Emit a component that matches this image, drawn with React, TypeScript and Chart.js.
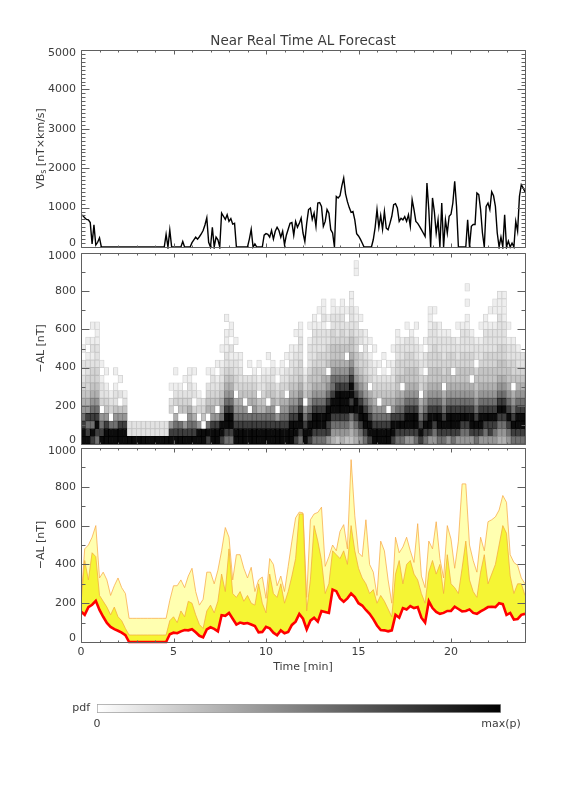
import React, { useEffect, useRef } from 'react';
import { Chart, registerables } from 'chart.js';

Chart.register(...registerables);

const W = 576;
const H = 792;
const FONT = "'DejaVu Sans', 'Liberation Sans', sans-serif";
const AXIS_COLOR = '#606060';
const TEXT_COLOR = '#3c3c3c';

// ---------- data ----------
const TIME_MIN = 0;
const TIME_MAX = 24;
const X_TICK_STEP = 5;

// VBs [nT x km/s], every 0.1 min
const VBS_STEP = 0.1;
const VBS = [
  800, 800, 740, 700, 690, 620, 80, 560, 50, 120,
  230, 0, 0, 0, 0, 0, 0, 0, 0, 0,
  0, 0, 0, 0, 0, 0, 0, 0, 0, 0,
  0, 0, 0, 0, 0, 0, 0, 0, 0, 0,
  0, 0, 0, 0, 0, 0, 320, 0, 430, 0,
  0, 0, 0, 0, 0, 140, 0, 0, 0, 0,
  110, 180, 250, 200, 260, 330, 420, 560, 740, 120,
  0, 500, 0, 250, 180, 0, 860, 780, 700, 820,
  650, 720, 580, 600, 0, 0, 0, 0, 0, 0,
  0, 200, 450, 0, 80, 0, 0, 0, 0, 300,
  340, 320, 250, 420, 200, 400, 500, 420, 250, 400,
  60, 300, 450, 600, 620, 300, 650, 500, 600, 736,
  355, 140, 600, 950, 990, 700, 860, 525, 1117, 1130,
  1030, 525, 650, 950, 860, 440, 355, 0, 1285, 1245,
  1300, 1550, 1750, 1350, 1150, 1000, 880, 900, 690, 340,
  280, 200, 100, 0, 0, 0, 0, 0, 190, 500,
  950, 500, 800, 450, 900, 480, 440, 600, 780, 1075,
  1100, 990, 650, 730, 690, 770, 650, 820, 525, 1200,
  950, 650, 600, 525, 440, 355, 270, 1625, 950, 0,
  1245, 900, 350, 690, 0, 1117, 0, 690, 355, 780,
  830, 1117, 1667, 1030, 0, 0, 0, 0, 0, 690,
  0, 525, 570, 570, 1370, 1330, 950, 355, 0, 1030,
  1117, 950, 1400, 1300, 1030, 355, 0, 250, 0, 820,
  0, 150, 0, 100, 0, 650, 400, 1285, 1580, 1500,
  1400,
];

// -AL forecast [nT], every 0.2 min
const AL_STEP = 0.2;
const AL_MEDIAN = [
  157, 140, 180, 192, 212,
  165, 130, 98, 78, 66,
  58, 48, 35, 0, 0,
  0, 0, 0, 0, 0,
  0, 0, 0, 0, 40,
  48, 45, 55, 62, 60,
  66, 50, 32, 24, 65,
  76, 68, 55, 138, 135,
  150, 120, 90, 100, 95,
  98, 90, 82, 50, 52,
  78, 70, 48, 35, 60,
  45, 52, 88, 105, 145,
  120, 65, 110, 125, 105,
  160, 155, 150, 270, 262,
  225, 208, 225, 250, 232,
  200, 188, 165, 145, 118,
  85, 62, 60, 55, 60,
  140, 125, 175, 168, 185,
  175, 180, 125, 100, 210,
  175, 155, 145, 150, 160,
  160, 182, 170, 158, 160,
  168, 150, 145, 158, 168,
  180, 182, 180, 200, 195,
  140, 150, 115, 118, 140,
  145,
];
const AL_INNER = [
  200, 420, 320, 460, 440,
  240, 210, 180, 140, 180,
  130, 110, 70, 36, 36,
  36, 36, 36, 36, 36,
  36, 36, 36, 36, 110,
  130, 100, 160, 130, 210,
  200, 140, 90, 70, 160,
  190, 150, 210, 350, 260,
  480, 250, 230, 260, 210,
  240, 200, 190, 300, 200,
  150, 350, 250, 230, 300,
  200, 260, 340, 430, 660,
  660, 160, 320, 600, 520,
  420, 250, 300, 470, 450,
  430, 470, 400, 600, 470,
  380, 330, 300, 250, 270,
  200, 240, 210, 170, 130,
  350, 420, 300, 400, 420,
  350, 320, 250, 200, 360,
  420, 350, 400, 250, 450,
  300, 280, 250, 380, 520,
  320, 260, 230, 360, 450,
  300, 350, 400, 500, 600,
  560, 340, 250, 300, 300,
  240,
];
const AL_OUTER = [
  210, 480, 500, 540, 600,
  330, 360, 320, 240, 290,
  330, 280, 250, 122, 122,
  122, 122, 122, 122, 122,
  122, 122, 122, 122, 215,
  290, 290, 320, 280, 340,
  380, 260, 190, 220, 360,
  360, 300, 370, 470, 590,
  540, 320, 450, 450, 380,
  330, 385, 260, 320, 335,
  225, 430, 400, 290, 340,
  260, 390, 520, 640, 670,
  665, 230, 630, 660, 668,
  695, 390, 440, 500, 470,
  570, 605, 480, 940, 650,
  460, 440, 630, 400, 360,
  240, 520, 470, 320, 200,
  540, 460, 490, 540, 470,
  410, 610, 340, 280, 520,
  480, 620, 430, 330, 600,
  530, 380, 520, 815, 815,
  500, 420, 360, 540, 470,
  620, 630, 645, 680, 755,
  720, 450, 410, 395, 330,
  300,
];

// pdf heat map: one string per 0.25-min column, one digit (0 = empty .. 9 = max) per 40 nT bin, from 0 nT upward
const HEAT_DT = 0.25;
const HEAT_DY = 40;
const HEAT_COLUMNS = [
  '9987654321201', '98786543322101', '8978765433212101', '7898765433222111',
  '98760322101', '9986432101', '99703210', '9976422101', '998640201', '99864210',
  '922', '922', '922', '922', '922', '922', '922', '922', '922',
  '98603201', '9875032101', '98704321', '986043201', '9876532211',
  '9875302101', '9960321', '9904320', '8970543201', '9986543221',
  '99860432101', '8997654322101', '78998765432211101', '7899876543212011', '99876503322101',
  '998765432211', '9987604320', '99870543201', '9987654321', '99875402101',
  '9987543221', '998760432101', '99876543221', '9986043201', '99876543211',
  '998765032201', '9998765432211', '899876543322101', '7899876543322211', '9987604321',
  '8998765443222101', '78998765443222211', '789987654433222101', '7899876554332221211', '68899876504332201',
  '5678998776544332211', '467899987654432221', '5678999876544332211', '467899987650432201', '45679899876544322211',
  '567899876544332211000011', '67899876543302201', '789987654332211', '89987650322101', '9987654322101',
  '99876043201', '998765432101', '99870543201', '8998654322101', '789876544332211',
  '78987650433221', '6899876544332201', '689987654433221', '7899876544322101', '8987650332211',
  '78987654302201', '689987654433222111', '678987654433322201', '7899876544332211', '789876504332221',
  '689987654433221', '78998765403322', '6899876544322101', '6789876544332221', '678987654433222110101',
  '689987650433221', '78987654430221', '6899876544322101', '67898765443322211', '688987654433222101',
  '6789876544332221011', '56789876544332222111', '56789876544332221111', '6789876544322101', '78987650433221',
  '7899876543221', '789987654322',
];
// grey level for each pdf digit (0..9)
const HEAT_GREYS = [255, 238, 226, 212, 196, 176, 150, 112, 62, 12];

const TITLE = 'Near Real Time AL Forecast';
const AL_LABEL = '\u2212AL [nT]';
const TIME_LABEL = 'Time [min]';

// ---------- layout ----------
const PLOT_LEFT = 81;
const PLOT_RIGHT = 525;
const P1 = { top: 50, bottom: 247 };
const P2 = { top: 253, bottom: 444 };
const P3 = { top: 448, bottom: 642 };
const CB = { left: 97, right: 501, top: 704, bottom: 713 };

Chart.defaults.font.family = FONT;
Chart.defaults.color = TEXT_COLOR;

const tickFont = { family: FONT, size: 11 };

function makeFrame(yMinor: number, yMajor: number) {
  return {
    id: 'frameTicks',
    afterDatasetsDraw(chart: any) {
      const { ctx, chartArea: a, scales } = chart;
      const xs = scales.x;
      const ys = scales.y;
      const L = Math.round(a.left), R = Math.round(a.right), T = Math.round(a.top), B = Math.round(a.bottom);
      ctx.save();
      ctx.strokeStyle = AXIS_COLOR;
      ctx.lineWidth = 1;
      ctx.beginPath();
      ctx.rect(L + 0.5, T + 0.5, R - L, B - T);
      ctx.stroke();
      ctx.beginPath();
      for (let v = xs.min; v <= xs.max + 1e-9; v += 1) {
        const px = Math.round(xs.getPixelForValue(v)) + 0.5;
        const major = Math.abs(v % X_TICK_STEP) < 1e-6;
        const len = major ? 4 : 2;
        ctx.moveTo(px, B + 0.5);
        ctx.lineTo(px, B + 0.5 - len);
        ctx.moveTo(px, T + 0.5);
        ctx.lineTo(px, T + 0.5 + len);
      }
      for (let v = ys.min; v <= ys.max + 1e-9; v += yMinor) {
        const py = Math.round(ys.getPixelForValue(v)) + 0.5;
        const major = Math.abs(v % yMajor) < 1e-6;
        const len = major ? 8 : 4;
        ctx.moveTo(L + 0.5, py);
        ctx.lineTo(L + 0.5 + len, py);
        ctx.moveTo(R + 0.5, py);
        ctx.lineTo(R + 0.5 - len, py);
      }
      ctx.stroke();

      // y tick labels (taken from the scale's own ticks), kept inside the panel's height like the original
      ctx.fillStyle = TEXT_COLOR;
      ctx.font = `${tickFont.size}px ${FONT}`;
      ctx.textAlign = 'right';
      ctx.textBaseline = 'middle';
      ys.ticks.forEach((t: any) => {
        const py = ys.getPixelForValue(t.value);
        const y = Math.min(Math.max(py, T + 3), B - 3.5);
        ctx.fillText(String(t.value), L - 5, y);
      });
      ctx.restore();
    },
  };
}

const vbsTitlePlugin = {
  id: 'vbsTitle',
  afterDraw(chart: any) {
    const { ctx, chartArea: a } = chart;
    const cx = 41;
    const cy = (a.top + a.bottom) / 2;
    const big = `11px ${FONT}`;
    const small = `8px ${FONT}`;
    const parts: [string, string, number][] = [
      ['VB', big, 0],
      ['s', small, 3],
      [' [nT\u00d7km/s]', big, 0],
    ];
    ctx.save();
    ctx.translate(cx, cy);
    ctx.rotate(-Math.PI / 2);
    ctx.fillStyle = TEXT_COLOR;
    ctx.textBaseline = 'middle';
    ctx.textAlign = 'left';
    let total = 0;
    parts.forEach(([t, f]) => {
      ctx.font = f;
      total += ctx.measureText(t).width;
    });
    let x = -total / 2;
    parts.forEach(([t, f, dy]) => {
      ctx.font = f;
      ctx.fillText(t, x, dy);
      x += ctx.measureText(t).width;
    });
    ctx.restore();
  },
};

function yAxis(min: number, max: number, step: number, title?: string) {
  return {
    type: 'linear',
    min,
    max,
    ticks: {
      display: false,
      stepSize: step,
      autoSkip: false,
    },
    grid: { display: false, drawTicks: false },
    border: { display: false },
    title: title
      ? { display: true, text: title, color: TEXT_COLOR, font: tickFont, padding: { top: 34.4, bottom: 0 } }
      : { display: false },
    afterFit: (s: any) => {
      s.width = PLOT_LEFT;
    },
  };
}

const hiddenX = { type: 'linear', min: TIME_MIN, max: TIME_MAX, display: false, offset: false };

const basePlugins = { legend: { display: false }, tooltip: { enabled: false } };

function grey(v: number) {
  const c = Math.max(0, Math.min(255, Math.round(v)));
  return `rgb(${c},${c},${c})`;
}

function heatDatasets() {
  const rows = Math.max(...HEAT_COLUMNS.map((s) => s.length));
  const sets: any[] = [];
  for (let r = 0; r < rows; r++) {
    const data: any[] = [];
    const fills: string[] = [];
    const edges: string[] = [];
    HEAT_COLUMNS.forEach((s, c) => {
      const d = Number(s[r] || '0');
      if (d > 0) {
        data.push({ x: (c + 0.5) * HEAT_DT, y: [r * HEAT_DY, (r + 1) * HEAT_DY] });
        fills.push(grey(HEAT_GREYS[d]));
        edges.push(grey(HEAT_GREYS[d] - 30));
      }
    });
    sets.push({
      data,
      backgroundColor: fills,
      borderColor: edges,
      borderWidth: 0.8,
      borderSkipped: false,
      barPercentage: 1,
      categoryPercentage: 1,
      grouped: false,
    });
  }
  return sets;
}

export default function App() {
  const r1 = useRef<HTMLCanvasElement>(null);
  const r2 = useRef<HTMLCanvasElement>(null);
  const r3 = useRef<HTMLCanvasElement>(null);
  const r4 = useRef<HTMLCanvasElement>(null);

  useEffect(() => {
    const charts: Chart[] = [];

    // Panel 1: VBs
    charts.push(
      new Chart(r1.current as HTMLCanvasElement, {
        type: 'line',
        data: {
          datasets: [
            {
              data: VBS.map((v, i) => ({ x: +(i * VBS_STEP).toFixed(2), y: v })),
              borderColor: '#000000',
              borderWidth: 1.4,
              pointRadius: 0,
              tension: 0,
              fill: false,
              clip: { left: 0, top: 0, right: 0, bottom: 2 },
            } as any,
          ],
        },
        options: {
          responsive: false,
          animation: false,
          events: [],
          layout: { padding: { left: 0, right: W - PLOT_RIGHT, top: 0, bottom: H - P1.bottom } },
          scales: { x: hiddenX as any, y: yAxis(0, 5000, 1000) as any },
          plugins: {
            ...basePlugins,
            title: {
              display: true,
              text: TITLE,
              fullSize: false,
              color: TEXT_COLOR,
              font: { family: FONT, size: 13.5, weight: 'normal', lineHeight: 1.2 },
              padding: { top: 33, bottom: P1.top - 33 - 13.5 * 1.2 },
            },
          },
        } as any,
        plugins: [makeFrame(100, 1000), vbsTitlePlugin],
      })
    );

    // Panel 2: pdf heat map
    charts.push(
      new Chart(r2.current as HTMLCanvasElement, {
        type: 'bar',
        data: { datasets: heatDatasets() },
        options: {
          responsive: false,
          animation: false,
          events: [],
          layout: { padding: { left: 0, right: W - PLOT_RIGHT, top: P2.top, bottom: H - P2.bottom } },
          scales: { x: { ...hiddenX, grid: { offset: false } } as any, y: yAxis(0, 1000, 200, AL_LABEL) as any },
          plugins: basePlugins,
        } as any,
        plugins: [makeFrame(100, 200)],
      })
    );

    // Panel 3: forecast bands
    const alT = (i: number) => +(i * AL_STEP).toFixed(2);
    charts.push(
      new Chart(r3.current as HTMLCanvasElement, {
        type: 'line',
        data: {
          datasets: [
            {
              data: AL_MEDIAN.map((v, i) => ({ x: alT(i), y: v })),
              borderColor: '#ff0000',
              borderWidth: 2.6,
              pointRadius: 0,
              tension: 0,
              fill: false,
              clip: { left: 0, top: 0, right: 0, bottom: 2 },
            },
            {
              data: AL_INNER.map((v, i) => ({ x: alT(i), y: v })),
              borderColor: 'rgba(244,170,60,0.95)',
              backgroundColor: '#f5f534',
              borderWidth: 0.8,
              pointRadius: 0,
              tension: 0,
              fill: '-1',
            },
            {
              data: AL_OUTER.map((v, i) => ({ x: alT(i), y: v })),
              borderColor: 'rgba(248,170,70,0.95)',
              backgroundColor: '#ffffb0',
              borderWidth: 0.8,
              pointRadius: 0,
              tension: 0,
              fill: '-2',
            },
          ] as any,
        },
        options: {
          responsive: false,
          animation: false,
          events: [],
          layout: { padding: { left: 0, right: W - PLOT_RIGHT, top: P3.top, bottom: H - P3.bottom - 40 } },
          scales: {
            x: {
              type: 'linear',
              min: TIME_MIN,
              max: TIME_MAX,
              offset: false,
              ticks: {
                stepSize: X_TICK_STEP,
                includeBounds: false,
                color: TEXT_COLOR,
                font: tickFont,
                padding: 4,
                maxRotation: 0,
                autoSkip: false,
                callback: (v: any) => String(v),
              },
              grid: { display: false, drawTicks: false },
              border: { display: false },
              title: { display: true, text: TIME_LABEL, color: TEXT_COLOR, font: tickFont, padding: { top: 0, bottom: 8.4 } },
              afterFit: (s: any) => {
                s.height = 40;
              },
            } as any,
            y: yAxis(0, 1000, 200, AL_LABEL) as any,
          },
          plugins: basePlugins,
        } as any,
        plugins: [makeFrame(100, 200)],
      })
    );

    // Colour bar
    charts.push(
      new Chart(r4.current as HTMLCanvasElement, {
        type: 'bar',
        data: {
          labels: ['pdf'],
          datasets: [
            {
              data: [[0, 1]],
              backgroundColor: (c: any) => {
                const area = c.chart.chartArea;
                if (!area) return '#888888';
                const g = c.chart.ctx.createLinearGradient(area.left, 0, area.right, 0);
                g.addColorStop(0, '#ffffff');
                g.addColorStop(1, '#000000');
                return g;
              },
              borderColor: '#a0a0a0',
              borderWidth: 1,
              borderSkipped: false,
              barPercentage: 1,
              categoryPercentage: 1,
            } as any,
          ],
        },
        options: {
          indexAxis: 'y',
          responsive: false,
          animation: false,
          events: [],
          layout: { padding: { left: 0, right: W - CB.right, top: CB.top, bottom: H - CB.bottom - 30 } },
          scales: {
            x: {
              type: 'linear',
              min: 0,
              max: 1,
              ticks: {
                stepSize: 1,
                color: TEXT_COLOR,
                font: tickFont,
                padding: 5,
                maxRotation: 0,
                autoSkip: false,
                callback: (v: any) => (v === 0 ? '0' : 'max(p)'),
              },
              grid: { display: false, drawTicks: false },
              border: { display: false },
              afterFit: (s: any) => {
                s.height = 30;
              },
            },
            y: {
              type: 'category',
              ticks: { color: TEXT_COLOR, font: tickFont, padding: 7 },
              grid: { display: false, drawTicks: false },
              border: { display: false },
              afterFit: (s: any) => {
                s.width = CB.left;
              },
            },
          },
          plugins: basePlugins,
        } as any,
      })
    );

    return () => charts.forEach((c) => c.destroy());
  }, []);

  const style: React.CSSProperties = { position: 'absolute', left: 0, top: 0, width: W, height: H };
  return (
    <div style={{ position: 'absolute', left: 0, top: 0, width: W, height: H, background: '#ffffff' }}>
      <canvas ref={r1} width={W} height={H} style={style} />
      <canvas ref={r2} width={W} height={H} style={style} />
      <canvas ref={r3} width={W} height={H} style={style} />
      <canvas ref={r4} width={W} height={H} style={style} />
    </div>
  );
}
